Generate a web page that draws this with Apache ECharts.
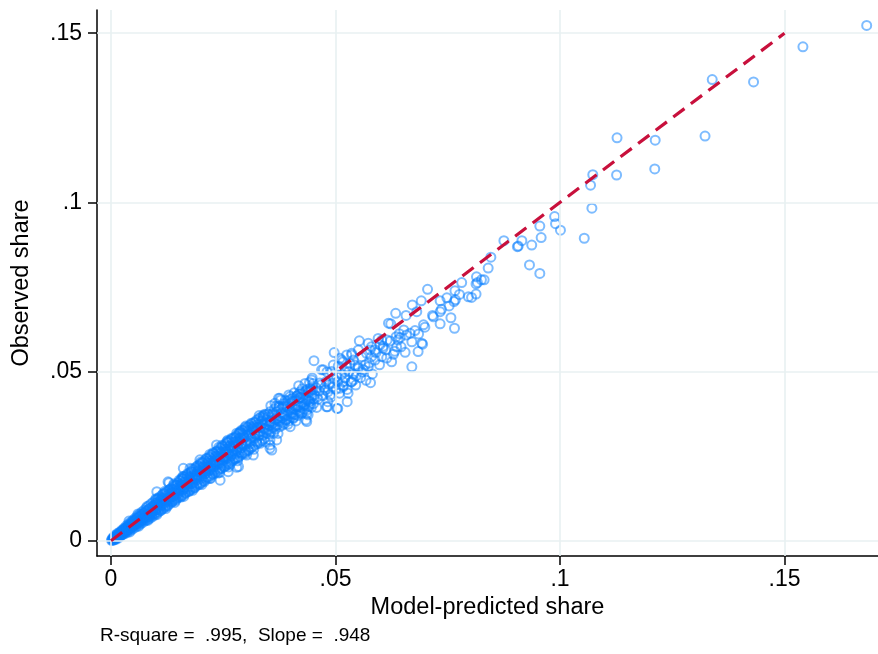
<!DOCTYPE html>
<html>
<head>
<meta charset="utf-8">
<script src="https://cdn.jsdelivr.net/npm/echarts@6/dist/echarts.min.js"></script>
<style>
  html, body { margin: 0; padding: 0; background: #ffffff; }
  #chart { width: 878px; height: 654px; }
</style>
</head>
<body>
<div id="chart"></div>
<script>
// Axis ticks and their printed labels
const tickValues = [0, .05, .1, .15];
const tickLabels = ['0', '.05', '.1', '.15'];

// 45-degree reference line (observed = predicted)
const fitLine = [[0, 0], [.15, .15]];

// [model-predicted share, observed share] per unit
const originShares = [
  [.0001,.0001],[.0002,.0004],[.0003,.0001],[.0005,.0006],[.0006,.0003],[.0007,.0009],[.0009,.0005],[.0010,.0012],
  [.0011,.0008],[.0013,.0015],[.0014,.0010],[.0015,.0018],[.0017,.0013],[.0018,.0021],[.0019,.0014],[.0021,.0024],
  [.0022,.0017],[.0024,.0027],[.0025,.0019],[.0026,.0030],[.0028,.0022],[.0029,.0033],[.0031,.0025],[.0032,.0036],
  [.0033,.0028],[.0035,.0040],[.0036,.0030],[.0038,.0043],[.0039,.0033],[.0040,.0046],[.0042,.0036],[.0043,.0049],
  [.0045,.0038],[.0046,.0052],[.0047,.0041],[.0049,.0056],[.0050,.0043],[.0052,.0059],[.0053,.0046],[.0054,.0062],
  [.0056,.0048],[.0057,.0053],[.0058,.0066],[.0060,.0051],[.0061,.0069],[.0062,.0056],[.0064,.0073],[.0065,.0055],
  [.0066,.0062],[.0068,.0077],[.0069,.0059],[.0071,.0080],[.0072,.0066],[.0073,.0062],[.0075,.0084],[.0076,.0070],
  [.0078,.0066],[.0079,.0088],[.0080,.0074],[.0082,.0069],[.0083,.0092],[.0085,.0078],[.0086,.0072],[.0087,.0096],
  [.0089,.0082],[.0090,.0076],[.0092,.0100],[.0093,.0086],[.0094,.0079],[.0096,.0105],[.0097,.0090],[.0099,.0083],
  [.0100,.0110]
];

// the thick core of the cloud, up to about .045
const coreShares = [
  [.0004,.0009],[.0006,.0002],[.0005,.0005],[.0007,.0011],[.0009,.0016],[.0011,.0004],[.0012,.0010],[.0010,.0007],
  [.0014,.0021],[.0016,.0008],[.0015,.0013],[.0017,.0019],[.0019,.0025],[.0021,.0013],[.0022,.0020],[.0020,.0016],
  [.0024,.0031],[.0026,.0018],[.0027,.0024],[.0025,.0028],[.0029,.0037],[.0031,.0021],[.0032,.0029],[.0030,.0034],
  [.0034,.0044],[.0036,.0025],[.0037,.0033],[.0035,.0039],[.0039,.0050],[.0041,.0029],[.0042,.0040],[.0040,.0035],
  [.0044,.0055],[.0046,.0033],[.0047,.0045],[.0045,.0050],[.0049,.0061],[.0051,.0037],[.0052,.0049],[.0050,.0045],
  [.0054,.0067],[.0056,.0041],[.0057,.0055],[.0055,.0060],[.0059,.0073],[.0061,.0046],[.0062,.0058],[.0060,.0053],
  [.0064,.0079],[.0066,.0050],[.0067,.0066],[.0065,.0071],[.0069,.0085],[.0071,.0054],[.0072,.0068],[.0070,.0063],
  [.0074,.0090],[.0076,.0059],[.0077,.0077],[.0075,.0081],[.0079,.0097],[.0081,.0062],[.0082,.0078],[.0080,.0072],
  [.0084,.0103],[.0086,.0066],[.0087,.0088],[.0085,.0093],[.0089,.0109],[.0091,.0070],[.0092,.0087],[.0090,.0081],
  [.0094,.0114],[.0096,.0075],[.0097,.0099],[.0095,.0103],[.0099,.0120],[.0101,.0080],[.0102,.0097],[.0100,.0092],
  [.0104,.0125],[.0106,.0085],[.0107,.0110],[.0105,.0114],[.0109,.0130],[.0111,.0090],[.0112,.0107],[.0110,.0101],
  [.0114,.0135],[.0116,.0095],[.0117,.0120],[.0115,.0124],[.0119,.0140],[.0121,.0100],[.0122,.0117],[.0120,.0111],
  [.0124,.0145],[.0126,.0105],[.0127,.0130],[.0125,.0134],[.0129,.0150],[.0131,.0110],[.0132,.0127],[.0130,.0121],
  [.0134,.0155],[.0136,.0115],[.0137,.0140],[.0135,.0144],[.0139,.0160],[.0141,.0120],[.0142,.0137],[.0140,.0131],
  [.0144,.0165],[.0146,.0125],[.0147,.0150],[.0145,.0154],[.0149,.0171],[.0151,.0128],[.0152,.0147],[.0150,.0140],
  [.0154,.0177],[.0156,.0132],[.0157,.0161],[.0155,.0165],[.0159,.0183],[.0161,.0136],[.0162,.0157],[.0160,.0150],
  [.0164,.0189],[.0166,.0140],[.0167,.0172],[.0165,.0176],[.0169,.0194],[.0171,.0145],[.0172,.0167],[.0170,.0160],
  [.0174,.0200],[.0176,.0149],[.0177,.0182],[.0175,.0187],[.0179,.0205],[.0181,.0154],[.0182,.0177],[.0180,.0170],
  [.0184,.0211],[.0186,.0158],[.0187,.0192],[.0185,.0197],[.0189,.0216],[.0191,.0163],[.0192,.0187],[.0190,.0180],
  [.0194,.0222],[.0196,.0167],[.0197,.0202],[.0195,.0208],[.0199,.0227],[.0201,.0172],[.0202,.0197],[.0200,.0190],
  [.0204,.0232],[.0206,.0177],[.0207,.0213],[.0205,.0218],[.0209,.0237],[.0211,.0182],[.0212,.0206],[.0210,.0199],
  [.0214,.0243],[.0216,.0186],[.0217,.0223],[.0215,.0229],[.0219,.0248],[.0221,.0191],[.0222,.0216],[.0220,.0209],
  [.0224,.0253],[.0226,.0196],[.0227,.0233],[.0225,.0239],[.0229,.0258],[.0231,.0200],[.0232,.0226],[.0230,.0219],
  [.0234,.0263],[.0236,.0205],[.0237,.0244],[.0235,.0249],[.0239,.0268],[.0241,.0210],[.0242,.0236],[.0240,.0228],
  [.0244,.0274],[.0246,.0214],[.0247,.0254],[.0245,.0260],[.0249,.0279],[.0251,.0219],[.0252,.0245],[.0250,.0238],
  [.0254,.0285],[.0256,.0222],[.0257,.0264],[.0255,.0271],[.0259,.0290],[.0261,.0227],[.0262,.0255],[.0260,.0247],
  [.0264,.0295],[.0266,.0232],[.0267,.0275],[.0265,.0281],[.0269,.0300],[.0271,.0237],[.0272,.0265],[.0270,.0256],
  [.0274,.0305],[.0276,.0241],[.0277,.0285],[.0275,.0291],[.0279,.0310],[.0281,.0246],[.0282,.0275],[.0280,.0266],
  [.0284,.0316],[.0286,.0250],[.0287,.0295],[.0285,.0302],[.0289,.0321],[.0291,.0255],[.0292,.0284],[.0290,.0275],
  [.0294,.0326],[.0296,.0260],[.0297,.0305],[.0295,.0312],[.0299,.0330],[.0301,.0265],[.0302,.0294],[.0300,.0285],
  [.0304,.0336],[.0306,.0269],[.0307,.0315],[.0305,.0322],[.0309,.0341],[.0311,.0273],[.0312,.0303],[.0310,.0294],
  [.0314,.0346],[.0316,.0278],[.0317,.0325],[.0315,.0332],[.0319,.0350],[.0321,.0283],[.0322,.0313],[.0320,.0303],
  [.0324,.0356],[.0326,.0287],[.0327,.0335],[.0325,.0343],[.0329,.0361],[.0331,.0292],[.0332,.0323],[.0330,.0312],
  [.0334,.0366],[.0336,.0296],[.0337,.0344],[.0335,.0352],[.0339,.0370],[.0341,.0301],[.0342,.0332],[.0340,.0321],
  [.0344,.0372],[.0346,.0318],[.0347,.0345],[.0349,.0366],[.0351,.0327],[.0352,.0340],[.0354,.0381],[.0356,.0322],
  [.0357,.0352],[.0359,.0371],[.0361,.0334],[.0362,.0349],[.0364,.0389],[.0366,.0330],[.0367,.0360],[.0369,.0381],
  [.0371,.0343],[.0372,.0356],[.0374,.0398],[.0376,.0337],[.0377,.0368],[.0379,.0390],[.0381,.0350],[.0382,.0363],
  [.0384,.0405],[.0386,.0346],[.0387,.0377],[.0389,.0398],[.0391,.0358],[.0392,.0372],[.0394,.0413],[.0396,.0354],
  [.0397,.0384],[.0399,.0406],[.0401,.0366],[.0402,.0380],[.0404,.0421],[.0406,.0362],[.0407,.0392],[.0409,.0414],
  [.0411,.0373],[.0412,.0388],[.0414,.0428],[.0416,.0370],[.0417,.0400],[.0419,.0422],[.0421,.0381],[.0422,.0396],
  [.0424,.0435],[.0426,.0378],[.0427,.0408],[.0429,.0430],[.0431,.0389],[.0432,.0404],[.0434,.0443],[.0436,.0386],
  [.0437,.0416],[.0439,.0438],[.0441,.0397],[.0442,.0412],[.0444,.0451],[.0446,.0394],[.0447,.0424],[.0449,.0445],
  [.0451,.0405],[.0452,.0420]
];

// outer rim and middle of the core band
const rimShares = [
  [.0040,.0058],[.0042,.0026],[.0060,.0079],[.0062,.0043],[.0080,.0101],[.0082,.0060],[.0100,.0124],[.0102,.0077],
  [.0120,.0146],[.0122,.0095],[.0140,.0168],[.0142,.0113],[.0160,.0190],[.0162,.0131],[.0180,.0212],[.0182,.0149],
  [.0200,.0233],[.0202,.0166],[.0220,.0255],[.0222,.0184],[.0240,.0276],[.0242,.0201],[.0260,.0297],[.0262,.0218],
  [.0280,.0318],[.0282,.0236],[.0300,.0339],[.0302,.0253],
  [.0050,.0052],[.0070,.0071],[.0090,.0089],[.0110,.0112],[.0130,.0129],[.0150,.0152],[.0170,.0168],[.0190,.0193],
  [.0210,.0208],[.0230,.0232],[.0250,.0249],[.0270,.0272],[.0290,.0288]
];

const lowShares = [
  [.0101,.0113],[.0102,.0093],[.0104,.0107],[.0105,.0124],[.0107,.0092],[.0108,.0106],[.0110,.0119],[.0111,.0090],
  [.0113,.0128],[.0114,.0108],[.0116,.0139],[.0117,.0105],[.0119,.0124],[.0120,.0102],[.0122,.0123],[.0123,.0140],
  [.0125,.0116],[.0126,.0102],[.0128,.0138],[.0129,.0126],[.0131,.0152],[.0132,.0118],[.0134,.0140],[.0135,.0115],
  [.0137,.0151],[.0138,.0131],[.0140,.0165],[.0141,.0125],[.0143,.0145],[.0144,.0119],[.0146,.0164],[.0147,.0137],
  [.0149,.0157],[.0150,.0131],[.0152,.0179],[.0153,.0149],[.0155,.0167],[.0156,.0129],[.0158,.0162],[.0159,.0146],
  [.0161,.0183],[.0162,.0154],[.0164,.0173],[.0165,.0142],[.0167,.0183],[.0168,.0167],[.0170,.0198],[.0171,.0154],
  [.0173,.0178],[.0174,.0146],[.0176,.0189],[.0177,.0168],[.0179,.0203],[.0180,.0160],[.0182,.0184],[.0183,.0170],
  [.0185,.0204],[.0186,.0156],[.0188,.0196],[.0189,.0184],[.0191,.0220],[.0192,.0168],[.0194,.0205],[.0195,.0181],
  [.0197,.0219],[.0198,.0167],[.0200,.0203],
  [.0102,.0145],[.0127,.0174],[.0129,.0171],[.0157,.0184],[.0161,.0189],[.0161,.0214],[.0176,.0214]
];

const bandShares = [
  [.0202,.0184],[.0203,.0230],[.0205,.0201],[.0206,.0220],[.0208,.0175],[.0209,.0215],[.0211,.0199],[.0212,.0243],
  [.0214,.0189],[.0215,.0216],[.0217,.0236],[.0218,.0209],[.0220,.0184],[.0221,.0245],[.0223,.0221],[.0224,.0235],
  [.0226,.0198],[.0227,.0260],[.0229,.0214],[.0230,.0235],[.0232,.0210],[.0233,.0250],[.0235,.0228],[.0236,.0264],
  [.0238,.0200],[.0239,.0248],[.0241,.0230],[.0242,.0264],[.0244,.0214],[.0245,.0247],[.0247,.0282],[.0248,.0229],
  [.0250,.0263],[.0251,.0246],[.0253,.0218],[.0254,.0280],[.0256,.0242],[.0257,.0264],[.0259,.0234],[.0260,.0290],
  [.0262,.0259],[.0263,.0279],[.0265,.0225],[.0266,.0276],[.0268,.0251],[.0269,.0303],[.0271,.0263],[.0272,.0292],
  [.0274,.0243],[.0275,.0278],[.0277,.0256],[.0278,.0305],[.0280,.0268],[.0281,.0293],[.0283,.0245],[.0284,.0290],
  [.0286,.0318],[.0287,.0261],[.0289,.0304],[.0290,.0284],[.0292,.0259],[.0293,.0317],[.0295,.0282],[.0296,.0305],
  [.0298,.0257],[.0299,.0335],
  [.0302,.0287],[.0304,.0326],[.0306,.0266],[.0308,.0313],[.0310,.0286],[.0312,.0347],[.0314,.0307],[.0316,.0330],
  [.0318,.0270],[.0320,.0318],[.0322,.0350],[.0324,.0293],[.0326,.0335],[.0328,.0311],[.0330,.0370],[.0332,.0288],
  [.0334,.0335],[.0336,.0355],[.0338,.0312],[.0340,.0331],[.0342,.0374],[.0344,.0292],[.0346,.0357],[.0348,.0328],
  [.0350,.0374],[.0352,.0316],[.0354,.0350],[.0356,.0399],[.0358,.0344],[.0360,.0376],[.0362,.0317],[.0364,.0370],
  [.0366,.0338],[.0368,.0398],[.0370,.0360],[.0372,.0317],[.0374,.0394],[.0376,.0354],[.0378,.0416],[.0380,.0377],
  [.0382,.0342],[.0384,.0396],[.0386,.0370],[.0388,.0415],[.0390,.0357],[.0392,.0395],[.0394,.0344],[.0396,.0431],
  [.0398,.0390],[.0400,.0418],[.0402,.0375],[.0404,.0412],[.0406,.0364],[.0408,.0437],[.0410,.0398],[.0412,.0354],
  [.0414,.0428],[.0416,.0396],[.0418,.0458],[.0420,.0385],[.0422,.0424],[.0424,.0376],[.0426,.0449],[.0428,.0422],
  [.0430,.0400],[.0432,.0465],[.0434,.0419],[.0436,.0376],[.0438,.0448],[.0440,.0416],[.0442,.0468],[.0444,.0404],
  [.0446,.0447],[.0448,.0430],[.0450,.0465],
  [.0198,.0239],[.0235,.0283],[.0258,.0293],[.0287,.0322],[.0291,.0327],[.0313,.0337],[.0317,.0337],[.0339,.0362],
  [.0339,.0367],[.0365,.0406],[.0373,.0421],[.0376,.0421],[.0399,.0426],[.0419,.0434],[.0421,.0440],
  [.0243,.0179],[.0261,.0204],[.0280,.0217],[.0284,.0219],[.0317,.0253],[.0354,.0273],[.0358,.0268],[.0354,.0283],
  [.0354,.0298],[.0369,.0298],[.0399,.0337],[.0406,.0372],[.0436,.0352]
];

const spreadShares = [
  [.0453,.0431],[.0457,.0452],[.0461,.0418],[.0464,.0443],[.0468,.0461],[.0472,.0429],[.0475,.0452],[.0479,.0470],
  [.0483,.0440],[.0486,.0462],[.0490,.0425],[.0494,.0455],[.0497,.0478],[.0501,.0448],[.0505,.0470],[.0509,.0436],
  [.0513,.0490],[.0517,.0459],[.0521,.0481],[.0526,.0447],[.0530,.0500],[.0535,.0469],[.0540,.0492],[.0545,.0460],
  [.0550,.0515],[.0556,.0482],[.0562,.0505],[.0568,.0474],[.0575,.0525],[.0582,.0493],[.0590,.0556],[.0598,.0520],
  [.0606,.0575],[.0614,.0540],[.0622,.0590],[.0632,.0560],[.0642,.0612],
  [.0447,.0475],[.0473,.0505],[.0495,.0519],[.0517,.0529],[.0536,.0554],[.0480,.0396],[.0503,.0391],
  [.0497,.0556],[.0553,.0591],[.0603,.0593],[.0615,.0593],[.0595,.0598],[.0599,.0579],[.0606,.0569],[.0588,.0564],
  [.0603,.0544],[.0625,.0529],[.0629,.0551],[.0636,.0573],[.0635,.0603],[.0644,.0601],[.0639,.0593],[.0655,.0557],
  [.0684,.0559],[.0670,.0514],[.0694,.0581],[.0578,.0467],[.0452,.0532],[.0573,.0584],[.0580,.0573],[.0577,.0564],
  [.0569,.0554],[.0580,.0544],[.0588,.0534],[.0558,.0544],[.0551,.0564],[.0510,.0539],[.0514,.0534],[.0525,.0549],
  [.0536,.0549],[.0540,.0534],[.0532,.0524],[.0543,.0519],[.0525,.0514],[.0551,.0510],[.0566,.0519],[.0573,.0514],
  [.0469,.0505],[.0491,.0500],[.0502,.0485],[.0517,.0470],[.0517,.0455],[.0528,.0436],[.0536,.0470],[.0540,.0475],
  [.0505,.0391],[.0482,.0396],[.0458,.0394],[.0526,.0411],[.0434,.0357],[.0439,.0372],[.0483,.0411],[.0459,.0425],
  [.0477,.0446],[.0494,.0466],[.0510,.0451],[.0488,.0431],[.0465,.0466],[.0448,.0481],[.0481,.0499],[.0506,.0516],
  [.0521,.0499],[.0546,.0487],[.0559,.0499],[.0618,.0643],[.0623,.0641],[.0634,.0672],[.0657,.0666],[.0652,.0623],
  [.0666,.0613],[.0658,.0608],[.0677,.0621],[.0685,.0611],[.0681,.0677],[.0671,.0697],[.0691,.0709],[.0696,.0638],
  [.0699,.0631],[.0670,.0588],[.0692,.0584],[.0646,.0573],[.0612,.0564]
];

const tailShares = [
  [.0705,.0743],[.0716,.0666],[.0718,.0662],[.0733,.0677],[.0736,.0684],[.0753,.0694],[.0733,.0709],[.0748,.0718],
  [.0764,.0707],[.0767,.0712],[.0757,.0659],[.0733,.0641],[.0765,.0628],[.0766,.0739],[.0776,.0728],[.0796,.0721],
  [.0803,.0719],[.0813,.0729],[.0813,.0759],[.0814,.0780],[.0825,.0771],[.0831,.0771],[.0816,.0763],[.0781,.0763],
  [.0846,.0838],[.0840,.0806],[.0875,.0887],[.0905,.0869],[.0907,.0871],[.0915,.0887],[.0932,.0815],[.0955,.0790],
  [.0937,.0874],[.0955,.0930],[.0958,.0896],[.0988,.0958],[.0990,.0937],[.1001,.0918],[.1054,.0894],[.1068,.1051],
  [.1071,.0983],[.1073,.1082],[.1126,.1081],[.1211,.1099],[.1127,.1191],[.1212,.1184],[.1323,.1196],[.1339,.1363],
  [.1431,.1356],[.1541,.1460],[.1683,.1523]
];

const noteText = 'R-square =  .995,  Slope =  .948';
const xTitle = 'Model-predicted share';
const yTitle = 'Observed share';

const allShares = originShares.concat(coreShares, rimShares, lowShares, bandShares, spreadShares, tailShares);

const FONT = '"Liberation Sans", Arial, Helvetica, sans-serif';
const GRID_COLOR = '#e8f0f2';

function tickText(v) {
  const i = tickValues.findIndex(t => Math.abs(t - v) < 1e-9);
  return i < 0 ? '' : tickLabels[i];
}

function axisBase(min, max) {
  return {
    type: 'value',
    min: min,
    max: max,
    axisLine: { show: true, onZero: false, lineStyle: { color: '#000', width: 1.5 } },
    axisTick: { show: true, length: 9, customValues: tickValues, lineStyle: { color: '#000', width: 1.5 } },
    axisLabel: { customValues: tickValues, formatter: tickText, color: '#000', fontSize: 23, fontFamily: FONT },
    splitLine: { show: false },
    nameLocation: 'middle',
    nameTextStyle: { color: '#000', fontSize: 23.5, fontFamily: FONT }
  };
}

const xAxis = Object.assign(axisBase(-0.00312, 0.17082), { name: xTitle, nameGap: 38 });
xAxis.axisLabel.margin = 12;
const yAxis = Object.assign(axisBase(-0.00452, 0.15687), { name: yTitle, nameGap: 63 });
yAxis.axisLabel.margin = 15;

const chart = echarts.init(document.getElementById('chart'), null, { renderer: 'canvas' });
chart.setOption({
  animation: false,
  backgroundColor: '#ffffff',
  grid: { left: 97, right: 0, top: 10, bottom: 98, containLabel: false },
  xAxis: xAxis,
  yAxis: yAxis,
  series: [
    {
      name: 'gridlines',
      type: 'line',
      data: [],
      silent: true,
      z: 1,
      markLine: {
        silent: true,
        symbol: 'none',
        label: { show: false },
        lineStyle: { type: 'solid', color: GRID_COLOR, width: 1.6 },
        data: tickValues.map(v => ({ xAxis: v })).concat(tickValues.map(v => ({ yAxis: v })))
      }
    },
    {
      name: 'shares',
      type: 'scatter',
      data: allShares,
      symbol: 'circle',
      symbolSize: 9,
      large: false,
      z: 3,
      itemStyle: { color: 'rgba(0,0,0,0)', borderColor: 'rgba(10,128,255,0.66)', borderWidth: 2 }
    },
    {
      name: 'fit',
      type: 'line',
      data: fitLine,
      showSymbol: false,
      symbol: 'none',
      z: 5,
      lineStyle: { color: '#c8103c', width: 3.2, type: [14, 8] }
    }
  ],
  graphic: [
    {
      type: 'text',
      left: 100,
      top: 626,
      style: { text: noteText, font: '19px ' + FONT, fill: '#000' }
    }
  ]
});
</script>
</body>
</html>
